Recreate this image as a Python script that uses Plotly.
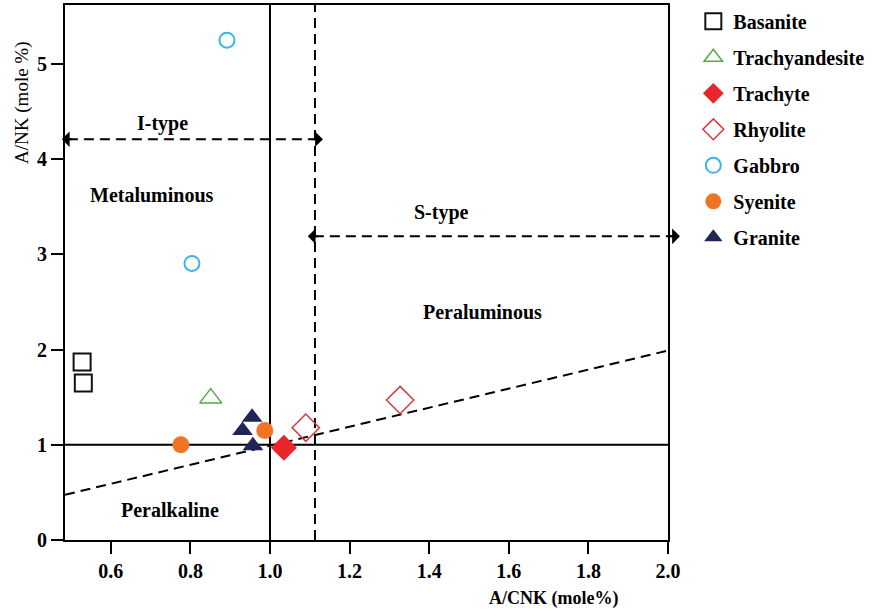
import plotly.graph_objects as go

# Sample compositions: A/CNK (x) and A/NK (y), molar ratios
basanite_x = [0.528, 0.531]
basanite_y = [1.87, 1.65]
trachyandesite_x = [0.851]
trachyandesite_y = [1.49]
trachyte_x = [1.035]
trachyte_y = [0.97]
rhyolite_x = [1.09, 1.327]
rhyolite_y = [1.18, 1.47]
gabbro_x = [0.892, 0.804]
gabbro_y = [5.25, 2.905]
syenite_x = [0.776, 0.987]
syenite_y = [1.00, 1.15]
granite_x = [0.955, 0.931, 0.957]
granite_y = [1.29, 1.15, 0.99]

x_ticks = [0.6, 0.8, 1.0, 1.2, 1.4, 1.6, 1.8, 2.0]
y_ticks = [0, 1, 2, 3, 4, 5]

X_RANGE = [0.485, 2.0]
Y_RANGE = [0, 5.62]

SERIF = "Liberation Serif, Times New Roman, serif"


def to_paper_x(x):
    """Map an A/CNK value onto the paper coordinate of the plot area."""
    return (x - X_RANGE[0]) / (X_RANGE[1] - X_RANGE[0])


fig = go.Figure()

series = [
    ("Basanite", basanite_x, basanite_y, "square-open", 17, "#111111", 2),
    ("Trachyandesite", trachyandesite_x, trachyandesite_y, "triangle-up-open", 19, "#58a84a", 1.5),
    ("Trachyte", trachyte_x, trachyte_y, "diamond", 20, "#e8262b", 0),
    ("Rhyolite", rhyolite_x, rhyolite_y, "diamond-open", 21, "#d9383a", 1.5),
    ("Gabbro", gabbro_x, gabbro_y, "circle-open", 15, "#3cb4e5", 2),
    ("Syenite", syenite_x, syenite_y, "circle", 17, "#f07522", 0),
    ("Granite", granite_x, granite_y, "triangle-up", 18, "#1f2557", 0),
]

# Reference lines: A/CNK = 1, A/NK = 1, I/S boundary at A/CNK = 1.1, A/NK = A/CNK
line_style = dict(color="black", width=2)
dash_style = dict(color="black", width=2, dash="10px,6px")
fig.add_shape(type="line", x0=1.0, x1=1.0, y0=Y_RANGE[0], y1=Y_RANGE[1], line=line_style, layer="below")
fig.add_shape(type="line", x0=X_RANGE[0], x1=X_RANGE[1], y0=1.0, y1=1.0, line=line_style, layer="below")
fig.add_shape(type="line", x0=1.113, x1=1.113, y0=Y_RANGE[0], y1=Y_RANGE[1], line=dash_style, layer="below")
fig.add_shape(type="line", x0=X_RANGE[0], x1=X_RANGE[1], y0=X_RANGE[0] - 0.01, y1=X_RANGE[1] - 0.01,
              line=dash_style, layer="below")

# I-type and S-type range arrows (double headed, dashed shafts)
arrows = [
    dict(x=[0.477, 1.133], y=4.21),
    dict(x=[1.095, 2.03], y=3.19),
]
for arr in arrows:
    left, right = to_paper_x(arr["x"][0]), to_paper_x(arr["x"][1])
    fig.add_shape(type="line", xref="paper", yref="y", x0=left + 0.01, x1=right - 0.01,
                  y0=arr["y"], y1=arr["y"], line=dash_style, layer="below")
    for tip, offset in ((left, 12), (right, -12)):
        fig.add_annotation(xref="paper", yref="y", x=tip, y=arr["y"], text="",
                           showarrow=True, ax=offset, ay=0, arrowhead=1, arrowsize=1.3,
                           arrowwidth=2, arrowcolor="black", standoff=0)

for name, xs, ys, sym, size, color, lw in series:
    fig.add_trace(go.Scatter(
        x=xs, y=ys, mode="markers", name=name, legendgroup=name, cliponaxis=False,
        marker=dict(symbol=sym, size=size, color=color, line=dict(color=color, width=lw)),
    ))

# Field labels
field_labels = [
    ("I-type", 0.731, 4.38),
    ("Metaluminous", 0.704, 3.62),
    ("S-type", 1.43, 3.44),
    ("Peraluminous", 1.533, 2.39),
    ("Peralkaline", 0.75, 0.316),
]
for text, x, y in field_labels:
    fig.add_annotation(x=x, y=y, text=f"<b>{text}</b>", showarrow=False,
                       font=dict(family=SERIF, size=20, color="black"))

# Axis titles
fig.add_annotation(xref="paper", yref="paper", x=-0.0713, y=0.817, text="A/NK (mole %)",
                   textangle=-90, showarrow=False, xanchor="center", yanchor="middle",
                   font=dict(family=SERIF, size=19, color="black"))
fig.add_annotation(xref="paper", yref="paper", x=0.81, y=-0.11, text="<b>A/CNK (mole%)</b>",
                   showarrow=False, xanchor="center", yanchor="middle",
                   font=dict(family=SERIF, size=18, color="black"))

axis_common = dict(
    showline=True, linecolor="black", linewidth=2, mirror=True,
    ticks="outside", ticklen=12, tickwidth=2, tickcolor="black",
    showgrid=False, zeroline=False,
    tickfont=dict(family=SERIF, size=20, color="black"),
)

fig.update_layout(
    width=884, height=616,
    margin=dict(l=65, r=216, t=5, b=76, autoexpand=False),
    paper_bgcolor="white", plot_bgcolor="white",
    xaxis=dict(range=X_RANGE, tickvals=x_ticks, ticktext=[f"<b>{v:.1f}</b>" for v in x_ticks],
               **axis_common),
    yaxis=dict(range=Y_RANGE, tickvals=y_ticks, ticktext=[f"<b>{v}</b>" for v in y_ticks],
               **axis_common),
    legend=dict(x=1.042, y=1.006, xanchor="left", yanchor="top",
                font=dict(family=SERIF, size=20, color="black", weight="bold"),
                tracegroupgap=7, itemsizing="trace", bgcolor="rgba(0,0,0,0)"),
    showlegend=True,
)

fig.write_html("out.html")
